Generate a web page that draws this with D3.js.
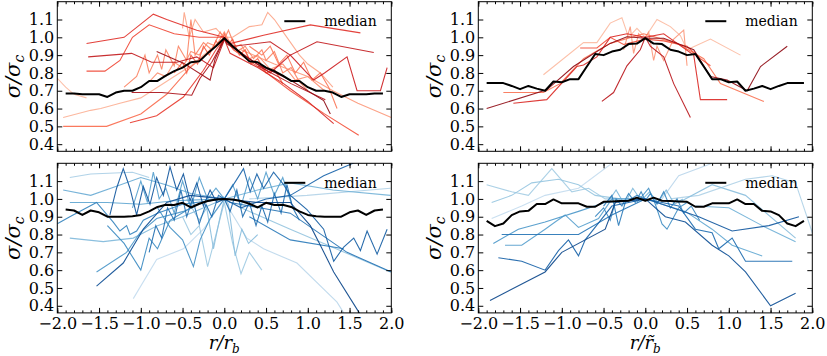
<!DOCTYPE html>
<html lang="en">
<head>
<meta charset="UTF-8">
<title>sigma / sigma_c profiles</title>
<script src="https://d3js.org/d3.v7.min.js"></script>
<style>
    body { margin: 0; background: #fff; }
    svg { display: block; }
</style>
</head>
<body>
<svg id="chart" width="827" height="356"></svg>
<script>
// ---- data ----
const xMajor = [-2.0, -1.5, -1.0, -0.5, 0.0, 0.5, 1.0, 1.5, 2.0];
const yTicks = [0.4, 0.5, 0.6, 0.7, 0.8, 0.9, 1.0, 1.1];

const medianX = [-1.9,-1.8,-1.7,-1.6,-1.5,-1.4,-1.3,-1.2,-1.1,-1.0,-0.9,-0.8,-0.7,-0.6,-0.5,-0.4,-0.3,-0.2,-0.1,0.0,
                 0.1,0.2,0.3,0.4,0.5,0.6,0.7,0.8,0.9,1.0,1.1,1.2,1.3,1.4,1.5,1.6,1.7,1.8,1.9];

const medianTL = [0.685,0.685,0.68,0.68,0.68,0.665,0.69,0.70,0.70,0.72,0.755,0.755,0.785,0.81,0.83,0.86,0.865,0.91,0.95,0.995,
                  0.95,0.91,0.865,0.86,0.83,0.81,0.785,0.755,0.755,0.72,0.70,0.70,0.69,0.665,0.68,0.68,0.68,0.685,0.685];
const medianTR = [0.743,0.743,0.743,0.727,0.709,0.727,0.712,0.70,0.752,0.748,0.765,0.765,0.836,0.906,0.90,0.92,0.93,0.962,0.965,0.995,
                  0.965,0.962,0.93,0.92,0.90,0.906,0.836,0.765,0.765,0.748,0.752,0.70,0.712,0.727,0.709,0.727,0.743,0.743,0.743];
const medianBL = [0.94,0.935,0.91,0.935,0.925,0.90,0.90,0.90,0.903,0.91,0.93,0.955,0.967,0.966,0.978,0.952,0.973,0.988,0.997,1.0,
                  0.997,0.988,0.973,0.952,0.978,0.966,0.967,0.955,0.93,0.91,0.903,0.90,0.90,0.90,0.925,0.935,0.91,0.935,0.94];
const medianBR = [0.877,0.847,0.862,0.909,0.93,0.933,0.971,0.971,0.997,0.975,0.975,0.975,0.956,0.956,0.984,0.986,0.988,0.99,1.007,0.99,
                  1.007,0.99,0.988,0.986,0.984,0.956,0.956,0.975,0.975,0.975,0.997,0.971,0.971,0.933,0.93,0.909,0.862,0.847,0.877];

// individual profiles, ordered light -> dark
const linesTL = [
  [[-2.0,0.77],[-1.9,0.72],[-1.8,0.68],[-1.65,0.66]],
  [[-1.93,0.55],[-1.6,0.59],[-1.48,0.60],[-1.25,0.63],[-1.0,0.66],[-0.8,0.72],[-0.6,0.78],[-0.4,0.84],[-0.2,0.92],[0,1.0]],
  [[-0.5,1.05],[-0.48,1.14],[-0.42,1.0],[-0.35,1.1],[-0.25,1.03],[-0.1,1.05],[0,1.0],[0.1,1.0],[0.3,1.06],[0.45,1.07],[0.52,1.14],[0.6,1.1],[0.75,1.0],[0.9,0.9],[1.0,0.85],[1.15,0.8],[1.3,0.72]],
  [[0.2,0.93],[0.6,0.85],[1.0,0.78],[1.3,0.7],[1.6,0.63],[2.0,0.55]],
  [[-0.9,0.75],[-0.8,0.8],[-0.7,0.78],[-0.6,0.86],[-0.5,0.83],[-0.4,0.92],[-0.3,0.9],[-0.2,0.97],[-0.1,0.95],[0,1.03],[0.1,0.94],[0.2,0.96],[0.3,0.88],[0.4,0.9],[0.55,0.82],[0.7,0.85],[0.85,0.76],[1.0,0.78],[1.2,0.7]],
  [[-1.2,0.72],[-1.05,0.78],[-0.95,0.9],[-0.9,0.8],[-0.8,0.9],[-0.75,0.82],[-0.7,0.93],[-0.6,0.84],[-0.55,0.95],[-0.45,0.87],[-0.4,1.1],[-0.35,0.9],[-0.25,0.97],[-0.15,0.93],[-0.05,1.03],[0,0.99],[0.05,1.04],[0.15,0.92],[0.25,0.95],[0.35,0.88],[0.45,0.93],[0.5,0.87],[0.6,0.92],[0.7,0.8],[0.8,0.83],[0.9,0.75],[1.0,0.7]],
  [[0.3,0.95],[0.45,0.9],[0.55,0.95],[0.65,0.85],[0.75,0.9],[0.85,0.8],[0.95,0.86],[1.05,0.76],[1.15,0.8],[1.25,0.72],[1.35,0.6]],
  [[-1.93,0.50],[-1.41,0.50],[-1.0,0.57],[-0.69,0.68],[-0.41,0.83],[-0.13,0.94],[0,0.995]],
  [[-0.6,0.8],[-0.5,0.86],[-0.45,0.8],[-0.4,0.9],[-0.32,0.85],[-0.25,0.95],[-0.18,0.9],[-0.1,0.98],[-0.05,0.95],[0,1.02],[0.05,0.96],[0.1,0.99],[0.18,0.9],[0.25,0.93],[0.32,0.85],[0.4,0.88],[0.5,0.8],[0.6,0.82],[0.7,0.74]],
  [[0,1.0],[0.11,0.93],[0.45,0.82],[0.79,0.70],[1.2,0.57],[1.61,0.45]],
  [[-1.65,0.81],[-1.43,0.81],[-1.25,0.87],[-1.1,1.0],[-0.9,1.07],[-0.6,1.02],[-0.3,1.0],[0,1.0]],
  [[-1.13,0.52],[-0.81,0.56],[-0.49,0.665],[-0.25,0.815],[-0.1,0.93],[0,0.99]],
  [[-1.65,0.965],[-1.2,1.0],[-0.85,1.13],[-0.69,1.1],[-0.33,1.04],[0,1.0],[0.07,0.965],[0.47,1.012],[1.03,1.07],[1.63,1.025]],
  [[0,0.99],[0.07,0.91],[0.4,0.83],[0.71,0.74],[1.0,0.64],[1.31,0.515]],
  [[0.0,1.0],[0.15,0.93],[0.55,0.8],[0.79,0.9],[1.07,0.76],[1.2,0.8],[1.47,0.89],[1.59,0.7],[1.87,0.7],[1.95,0.83]],
  [[-1.63,0.89],[-1.11,0.91],[-0.87,0.86],[-0.57,0.86],[-0.33,0.89],[-0.13,0.83],[0,0.985],[0.11,0.95],[0.55,0.975],[0.79,0.9],[1.11,0.975],[1.79,0.915]],
  [[0.4,0.84],[0.8,0.74],[1.21,0.65]],
  [[-1.11,0.69],[-0.75,0.69],[-0.39,0.675],[-0.29,0.77],[-0.15,0.86],[0,0.99]],
  [[-0.81,0.92],[-0.49,0.855],[-0.17,0.76],[-0.11,0.88],[0,0.99]],
  [[0,1.0],[0.03,0.965],[0.39,0.85],[0.79,0.76],[1.19,0.645],[1.27,0.57]]
];

const linesTR = [
  [[-1.22,0.79],[-0.74,0.97],[-0.58,0.97],[-0.42,1.08],[-0.28,1.11],[-0.2,1.0],[-0.1,1.05],[0,1.0],[0.14,1.1],[0.3,1.06],[0.42,1.01],[0.5,0.93],[0.78,0.99],[1.14,0.90]],
  [[-0.26,0.93],[-0.18,1.06],[-0.14,0.91],[-0.08,1.02],[-0.02,0.985],[0.04,1.03],[0.1,0.87],[0.14,0.95],[0.22,0.87],[0.34,0.99],[0.46,1.04],[0.5,0.84]],
  [[-1.7,0.69],[-1.22,0.69],[-1.02,0.74],[-0.74,0.88],[-0.42,0.966],[-0.02,1.02],[0.38,0.966],[0.7,0.88],[0.9,0.74],[1.42,0.64]],
  [[-0.78,0.94],[-0.58,0.94],[-0.42,1.0],[-0.26,0.96],[0,0.99],[0.22,0.98],[0.5,0.95],[0.66,0.88],[0.78,0.84]],
  [[-1.58,0.63],[-1.18,0.65],[-0.82,0.836],[-0.74,0.845],[-0.58,0.89],[-0.42,1.0],[-0.22,1.02],[0,1.0],[0.22,1.02],[0.58,0.90],[0.66,0.65],[0.98,0.65]],
  [[-0.52,0.64],[-0.38,0.69],[-0.22,0.84],[-0.06,0.93],[0,1.0],[0.06,0.95],[0.22,0.89],[0.34,0.74],[0.54,0.55]],
  [[-1.9,0.6],[-1.18,0.705],[-0.86,0.836],[-0.58,0.92],[-0.42,0.966],[-0.22,1.003],[0,0.995],[0.22,0.995],[0.58,0.93],[0.78,0.78],[0.98,0.76],[1.22,0.70],[1.38,0.836],[1.7,0.95]]
];

const linesBL = [
  [[-1.09,0.44],[-0.81,0.66],[-0.49,0.72],[-0.25,0.83],[0,1.0]],
  [[0,1.0],[0.05,0.95],[0.27,0.78],[0.47,0.72],[0.87,0.64],[1.35,0.42],[1.43,0.36]],
  [[0.3,1.0],[0.99,1.02],[1.99,1.06]],
  [[-1.85,1.12],[-1.6,1.14],[-1.1,1.15],[-0.9,1.12]],
  [[-0.5,0.9],[-0.4,0.8],[-0.3,0.85],[-0.2,0.62],[-0.1,0.8],[0,0.98],[0.1,0.75],[0.2,0.58],[0.3,0.7],[0.45,0.6]],
  [[0.2,0.95],[0.79,0.83],[1.99,0.59]],
  [[-0.45,1.0],[-0.3,0.88],[-0.21,0.95],[-0.13,0.72],[-0.05,0.9],[0,1.0],[0.05,0.97],[0.13,0.68],[0.21,0.83],[0.29,0.75],[0.4,0.8]],
  [[-1.85,0.78],[-1.45,0.76],[-1.09,0.78],[-0.8,0.85],[-0.5,0.9],[0,1.0]],
  [[0,1.0],[0.4,1.05],[0.79,1.09],[1.3,1.05],[1.99,1.02]],
  [[-1.93,1.05],[-1.6,1.02],[-1.3,1.07],[-1.0,1.12],[-0.7,1.08],[-0.4,1.03],[0,1.0]],
  [[-1.85,0.98],[-1.4,0.98],[-1.0,0.97],[-0.6,0.99],[0,1.0]],
  [[-1.1,0.95],[-1.0,1.1],[-0.92,0.98],[-0.85,1.15],[-0.78,1.0],[-0.7,1.06],[-0.6,0.92],[-0.5,1.1],[-0.4,0.95],[-0.3,1.12],[-0.2,1.0],[-0.1,1.06],[0,1.0],[0.1,1.08],[0.2,0.96],[0.3,1.12],[0.4,1.0],[0.5,1.15],[0.6,1.02],[0.7,1.12],[0.8,0.98]],
  [[-1.53,0.59],[-1.17,0.70],[-1.01,0.81],[-0.81,0.89],[-0.49,0.93],[-0.25,0.98],[0,1.01]],
  [[-0.8,0.95],[-0.65,0.84],[-0.5,0.77],[-0.37,0.62],[-0.29,0.77],[-0.17,0.89],[0,1.0]],
  [[-1.4,0.85],[-1.2,0.75],[-1.0,0.6],[-0.9,0.78],[-0.8,0.72],[-0.65,0.88],[-0.4,0.95]],
  [[-2.0,0.86],[-1.85,0.9],[-1.53,0.98],[-1.33,0.87],[-1.25,0.82],[-1.17,0.85],[-1.13,0.80],[-1.05,0.82],[-0.97,0.88],[-0.8,0.92],[-0.5,0.97],[0,1.0]],
  [[0.3,0.9],[0.79,0.77],[1.43,0.72]],
  [[0,1.0],[0.07,0.98],[0.79,0.92],[1.47,0.70],[2.0,0.59]],
  [[-0.9,0.7],[-0.82,0.85],[-0.75,0.78],[-0.68,0.95],[-0.6,0.88],[-0.52,1.05],[-0.45,0.9],[-0.38,1.0],[-0.3,0.86],[-0.22,0.97],[-0.15,0.9],[-0.07,1.02],[0,1.0],[0.07,0.93],[0.15,1.05],[0.22,0.9],[0.3,0.98],[0.38,0.85],[0.45,0.96],[0.52,0.87],[0.6,1.03],[0.68,0.92],[0.75,1.08],[0.82,0.95],[0.9,0.88]],
  [[0,1.0],[0.15,1.11],[0.23,1.17],[0.31,1.04],[0.39,1.14],[0.47,1.06],[0.59,1.15],[0.71,1.08],[0.79,1.02],[1.19,1.13],[1.59,1.21]],
  [[0,1.0],[0.2,0.95],[0.5,1.0],[0.79,1.02],[0.99,0.94],[1.19,0.83],[1.31,0.65],[1.43,0.73],[1.55,0.78],[1.63,0.71],[1.71,0.82],[1.83,0.69],[1.95,0.83]],
  [[-1.37,0.91],[-1.29,1.06],[-1.21,1.17],[-1.13,1.06],[-1.05,0.91],[-0.97,1.07],[-0.89,0.97],[-0.81,1.12],[-0.73,1.02],[-0.65,1.18],[-0.57,1.05],[-0.49,1.14],[-0.41,0.99],[-0.33,1.09],[-0.25,0.96],[-0.17,1.05],[-0.09,0.98],[0,1.0]],
  [[-1.53,0.51],[-1.21,0.64],[-0.97,0.83],[-0.69,0.98],[-0.41,1.02],[0,1.0]],
  [[0,1.0],[0.39,0.98],[0.79,0.98],[1.03,0.85],[1.15,0.74],[1.31,0.59],[1.59,0.38],[1.7,0.3]]
];

const linesBR = [
  [[-1.84,0.89],[-1.48,0.96],[-1.2,1.02],[-0.8,1.06],[-0.4,1.2]],
  [[0.2,1.0],[0.4,1.13],[0.8,1.2]],
  [[0.3,1.0],[0.64,1.02],[1.2,1.11],[1.52,1.13],[1.8,1.09],[2.0,0.81]],
  [[-1.9,1.08],[-1.6,1.04],[-1.4,1.02],[-1.12,1.17],[-0.88,1.04],[-0.68,1.06],[-0.48,1.0],[0,1.0]],
  [[-1.84,0.98],[-1.6,1.02],[-1.36,1.09],[-1.04,1.11],[-0.8,1.08],[-0.6,1.02],[-0.3,1.0]],
  [[0.4,0.98],[0.8,1.08],[1.2,1.02],[1.8,0.78]],
  [[-0.45,0.98],[-0.35,1.05],[-0.25,0.97],[-0.15,1.06],[-0.05,0.99],[0.05,1.04],[0.15,0.98],[0.25,1.05],[0.35,0.97],[0.45,1.0]],
  [[0.6,0.96],[1.0,0.95],[1.4,0.85],[1.8,0.76]],
  [[0,1.0],[0.48,0.93],[0.8,0.83],[1.04,0.74],[1.4,0.68]],
  [[-1.68,0.74],[-1.48,0.74],[-1.2,0.83],[-1.08,0.87],[-0.96,0.91],[-0.8,0.84],[-0.56,0.89],[-0.4,1.0],[0,1.0]],
  [[-1.82,0.75],[-1.52,0.83],[-1.2,0.87],[-0.8,0.93],[-0.48,0.98],[0,1.0]],
  [[-0.1,0.98],[0.04,1.06],[0.12,0.97],[0.2,0.86],[0.26,0.83],[0.32,0.88],[0.4,0.95],[0.5,0.98]],
  [[-0.6,0.9],[-0.5,0.95],[-0.42,0.88],[-0.35,1.0],[-0.28,0.96],[-0.2,1.03],[-0.12,0.98],[-0.05,1.04],[0,0.99],[0.06,1.03],[0.14,0.97],[0.22,1.04],[0.3,0.95],[0.38,1.0],[0.46,0.92],[0.55,0.96],[0.65,0.88]],
  [[-0.5,0.96],[-0.4,1.02],[-0.32,0.85],[-0.24,0.98],[-0.1,1.02],[0,1.0]],
  [[-1.72,0.80],[-0.8,0.80],[-0.4,0.91],[0,1.0]],
  [[0,1.0],[0.4,0.96],[0.6,0.83],[0.8,0.81],[0.88,0.72],[1.04,0.78],[1.2,0.65],[1.4,0.65],[1.76,0.65]],
  [[-1.76,0.67],[-1.48,0.65],[-1.2,0.60],[-1.04,0.71],[-0.92,0.77],[-0.8,0.68],[-0.72,0.77],[-0.4,0.96],[0,1.0]],
  [[0,1.0],[0.08,0.99],[0.64,0.9],[1.04,0.82],[1.48,0.85],[1.84,0.9]],
  [[0,1.0],[0.24,0.9],[0.48,0.87],[0.8,0.74],[1.0,0.68],[1.2,0.59],[1.5,0.40],[1.8,0.47]],
  [[-1.86,0.43],[-1.2,0.59],[-1.0,0.70],[-0.48,0.83],[-0.36,0.98],[0,1.0]]
];

// ---- layout ----
const FONT = '"DejaVu Serif", "Liberation Serif", serif';
const W = 334, H = 149.6;
const svg = d3.select("#chart");

const panels = [
  { id: "tl", left: 57.3,  top: 1.7,   lines: linesTL, median: medianTL, cmap: d3.interpolateReds,  xlab: false, tilde: false },
  { id: "tr", left: 478.3, top: 1.7,   lines: linesTR, median: medianTR, cmap: d3.interpolateReds,  xlab: false, tilde: true },
  { id: "bl", left: 57.3,  top: 163.3, lines: linesBL, median: medianBL, cmap: d3.interpolateBlues, xlab: true,  tilde: false },
  { id: "br", left: 478.3, top: 163.3, lines: linesBR, median: medianBR, cmap: d3.interpolateBlues, xlab: true,  tilde: true }
];

const x = d3.scaleLinear().domain([-2, 2]).range([0, W]);
const y = d3.scaleLinear().domain([0.36, 1.2]).range([H, 0]);
const xMinor = d3.range(-20, 21).map(d => d / 10);

const line = d3.line().x(d => x(d[0])).y(d => y(d[1]));

function styleAxis(sel) {
    sel.select(".domain").remove();
    sel.attr("color", "#000");
    sel.selectAll("text")
        .style("font-family", FONT)
        .style("font-size", "16px")
        .attr("fill", "#000");
}

panels.forEach(p => {
    const g = svg.append("g").attr("transform", `translate(${p.left},${p.top})`);

    g.append("clipPath").attr("id", "clip-" + p.id)
        .append("rect").attr("width", W).attr("height", H);

    const plot = g.append("g").attr("clip-path", `url(#clip-${p.id})`);
    const n = p.lines.length;

    p.lines.forEach((pts, i) => {
        plot.append("path")
            .datum(pts)
            .attr("fill", "none")
            .attr("stroke", p.cmap(0.25 + 0.67 * i / (n - 1)))
            .attr("stroke-width", 1.1)
            .attr("stroke-opacity", 0.9)
            .attr("d", line);
    });

    plot.append("path")
        .datum(medianX.map((xv, i) => [xv, p.median[i]]))
        .attr("fill", "none")
        .attr("stroke", "#000")
        .attr("stroke-width", 2)
        .attr("stroke-linejoin", "round")
        .attr("d", line);

    // axes, ticks pointing inward on all four sides
    g.append("g").attr("transform", `translate(0,${H})`)
        .call(d3.axisBottom(x).tickValues(xMinor).tickSize(-2.5).tickFormat(""))
        .call(styleAxis);
    g.append("g").attr("transform", `translate(0,${H})`)
        .call(d3.axisBottom(x).tickValues(xMajor).tickSize(-5).tickPadding(5)
            .tickFormat(p.xlab ? d3.format(".1f") : ""))
        .call(styleAxis);
    g.append("g")
        .call(d3.axisTop(x).tickValues(xMinor).tickSize(-2.5).tickFormat(""))
        .call(styleAxis);
    g.append("g")
        .call(d3.axisTop(x).tickValues(xMajor).tickSize(-5).tickFormat(""))
        .call(styleAxis);
    g.append("g")
        .call(d3.axisLeft(y).tickValues(yTicks).tickSize(-5).tickPadding(3).tickFormat(d3.format(".1f")))
        .call(styleAxis);
    g.append("g").attr("transform", `translate(${W},0)`)
        .call(d3.axisRight(y).tickValues(yTicks).tickSize(-5).tickFormat(""))
        .call(styleAxis);

    g.append("rect")
        .attr("width", W).attr("height", H)
        .attr("fill", "none").attr("stroke", "#000").attr("stroke-width", 1);

    // legend
    g.append("line")
        .attr("x1", 227).attr("x2", 248).attr("y1", 19.5).attr("y2", 19.5)
        .attr("stroke", "#000").attr("stroke-width", 2);
    g.append("text")
        .attr("x", 267).attr("y", 19.5).attr("dy", "0.35em")
        .style("font-family", FONT).style("font-size", "14px")
        .text("median");

    // y label
    const yl = svg.append("text")
        .attr("transform", `translate(${p.left - 37},${p.top + H / 2}) rotate(-90)`)
        .attr("text-anchor", "middle")
        .style("font-family", FONT).style("font-size", "21px")
        .style("font-style", "italic");
    yl.append("tspan").text("σ/σ");
    yl.append("tspan").attr("dy", 4).style("font-size", "14px").text("c");

    // x label
    if (p.xlab) {
        const xl = svg.append("text")
            .attr("x", p.left + W / 2).attr("y", 349)
            .attr("text-anchor", "middle")
            .style("font-family", FONT).style("font-size", "18px")
            .style("font-style", "italic");
        xl.append("tspan").text(p.tilde ? "r/r\u0303" : "r/r");
        xl.append("tspan").attr("dy", 4).style("font-size", "12px").text("b");
    }
});
</script>
</body>
</html>
